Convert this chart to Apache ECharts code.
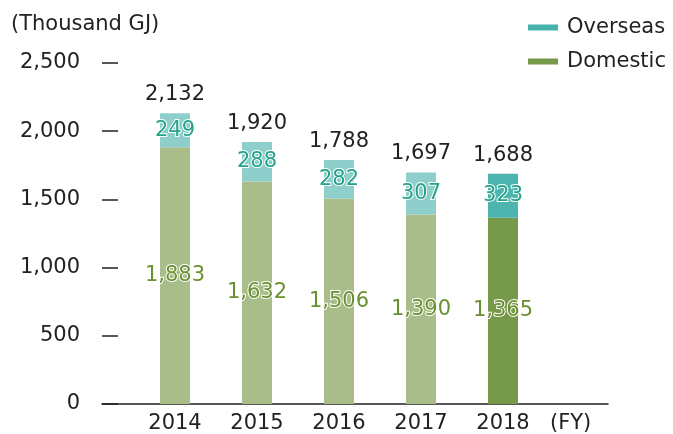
<!DOCTYPE html>
<html>
<head>
<meta charset="utf-8">
<script src="https://cdn.jsdelivr.net/npm/echarts@6/dist/echarts.min.js"></script>
<style>
  html, body { margin: 0; padding: 0; background: #fff; }
  #chart { width: 673px; height: 434px; }
</style>
</head>
<body>
<div id="chart"></div>
<script>
// data
var years = ['2014', '2015', '2016', '2017', '2018'];
var domestic = [1883, 1632, 1506, 1390, 1365];
var overseas = [249, 288, 282, 307, 323];
var totals = [2132, 1920, 1788, 1697, 1688];
var yTicks = [0, 500, 1000, 1500, 2000, 2500];

var FONT = 'DejaVu Sans';
var FS = 21;
var chart = echarts.init(document.getElementById('chart'));

function fmt(v) {
    return Number(v).toLocaleString('en-US');
}

// 最新年度だけ濃い色
function colored(values, light, dark) {
    return values.map(function (v, i) {
        return {
            value: v,
            itemStyle: { color: i === values.length - 1 ? dark : light }
        };
    });
}

var option = {
    animation: false,
    title: {
        text: '(Thousand GJ)',
        left: 6,
        top: 9,
        textStyle: { fontFamily: FONT, fontSize: FS, fontWeight: 'normal', color: '#222' }
    },
    legend: {
        data: ['Overseas', 'Domestic'],
        orient: 'vertical',
        left: 523,
        top: 12,
        icon: 'rect',
        itemWidth: 30,
        itemHeight: 6,
        itemGap: 13,
        textStyle: { fontFamily: FONT, fontSize: FS, color: '#222', padding: [0, 0, 0, 4] }
    },
    grid: [
        { left: 134, width: 410, top: 63, bottom: 29 },
        { left: 102, right: 65, top: 63, bottom: 29 }
    ],
    xAxis: [
        {
            type: 'category',
            gridIndex: 0,
            data: years,
            axisLine: { show: false },
            axisTick: { show: false },
            axisLabel: { margin: 9, fontFamily: FONT, fontSize: FS, color: '#222' }
        },
        {
            type: 'value',
            gridIndex: 1,
            min: 0,
            max: 1,
            axisLine: { show: true, lineStyle: { color: '#222', width: 1.5 } },
            axisTick: { show: false },
            axisLabel: { show: false },
            splitLine: { show: false },
            name: '(FY)',
            nameLocation: 'end',
            nameGap: -58,
            nameTextStyle: {
                fontFamily: FONT, fontSize: FS, color: '#222',
                align: 'left', verticalAlign: 'top', padding: [9, 0, 0, 0]
            }
        }
    ],
    yAxis: [
        {
            type: 'value',
            gridIndex: 0,
            min: 0,
            max: 2500,
            show: false
        },
        {
            type: 'value',
            gridIndex: 1,
            min: yTicks[0],
            max: yTicks[yTicks.length - 1],
            interval: 500,
            axisLine: { show: false },
            axisTick: { show: true, inside: true, length: 16, lineStyle: { color: '#222', width: 1.5 } },
            axisLabel: {
                margin: 22,
                fontFamily: FONT, fontSize: FS, color: '#222',
                formatter: fmt
            },
            splitLine: { show: false }
        }
    ],
    series: [
        {
            name: 'Domestic',
            type: 'bar',
            stack: 'total',
            barWidth: 30,
            xAxisIndex: 0,
            yAxisIndex: 0,
            itemStyle: { color: '#76994a' },
            data: colored(domestic, '#a8bd8a', '#76994a'),
            label: {
                show: true,
                position: 'inside',
                fontFamily: FONT, fontSize: FS,
                color: '#6a9030',
                textBorderColor: '#fff',
                textBorderWidth: 2,
                formatter: function (p) { return fmt(p.value); }
            }
        },
        {
            name: 'Overseas',
            type: 'bar',
            stack: 'total',
            barWidth: 30,
            xAxisIndex: 0,
            yAxisIndex: 0,
            itemStyle: { color: '#45b2ac' },
            data: colored(overseas, '#8ecfcc', '#4db5b0'),
            label: {
                show: true,
                position: 'inside',
                fontFamily: FONT, fontSize: FS,
                color: '#24a388',
                textBorderColor: '#fff',
                textBorderWidth: 2,
                formatter: function (p) { return fmt(p.value); }
            }
        },
        {
            // 合計ラベル用
            name: 'Total',
            type: 'bar',
            stack: 'total',
            barWidth: 30,
            xAxisIndex: 0,
            yAxisIndex: 0,
            data: years.map(function () { return 0; }),
            itemStyle: { color: 'transparent' },
            label: {
                show: true,
                position: 'top',
                distance: 8,
                fontFamily: FONT, fontSize: FS,
                color: '#222',
                formatter: function (p) { return fmt(totals[p.dataIndex]); }
            }
        }
    ]
};

chart.setOption(option);
</script>
</body>
</html>
